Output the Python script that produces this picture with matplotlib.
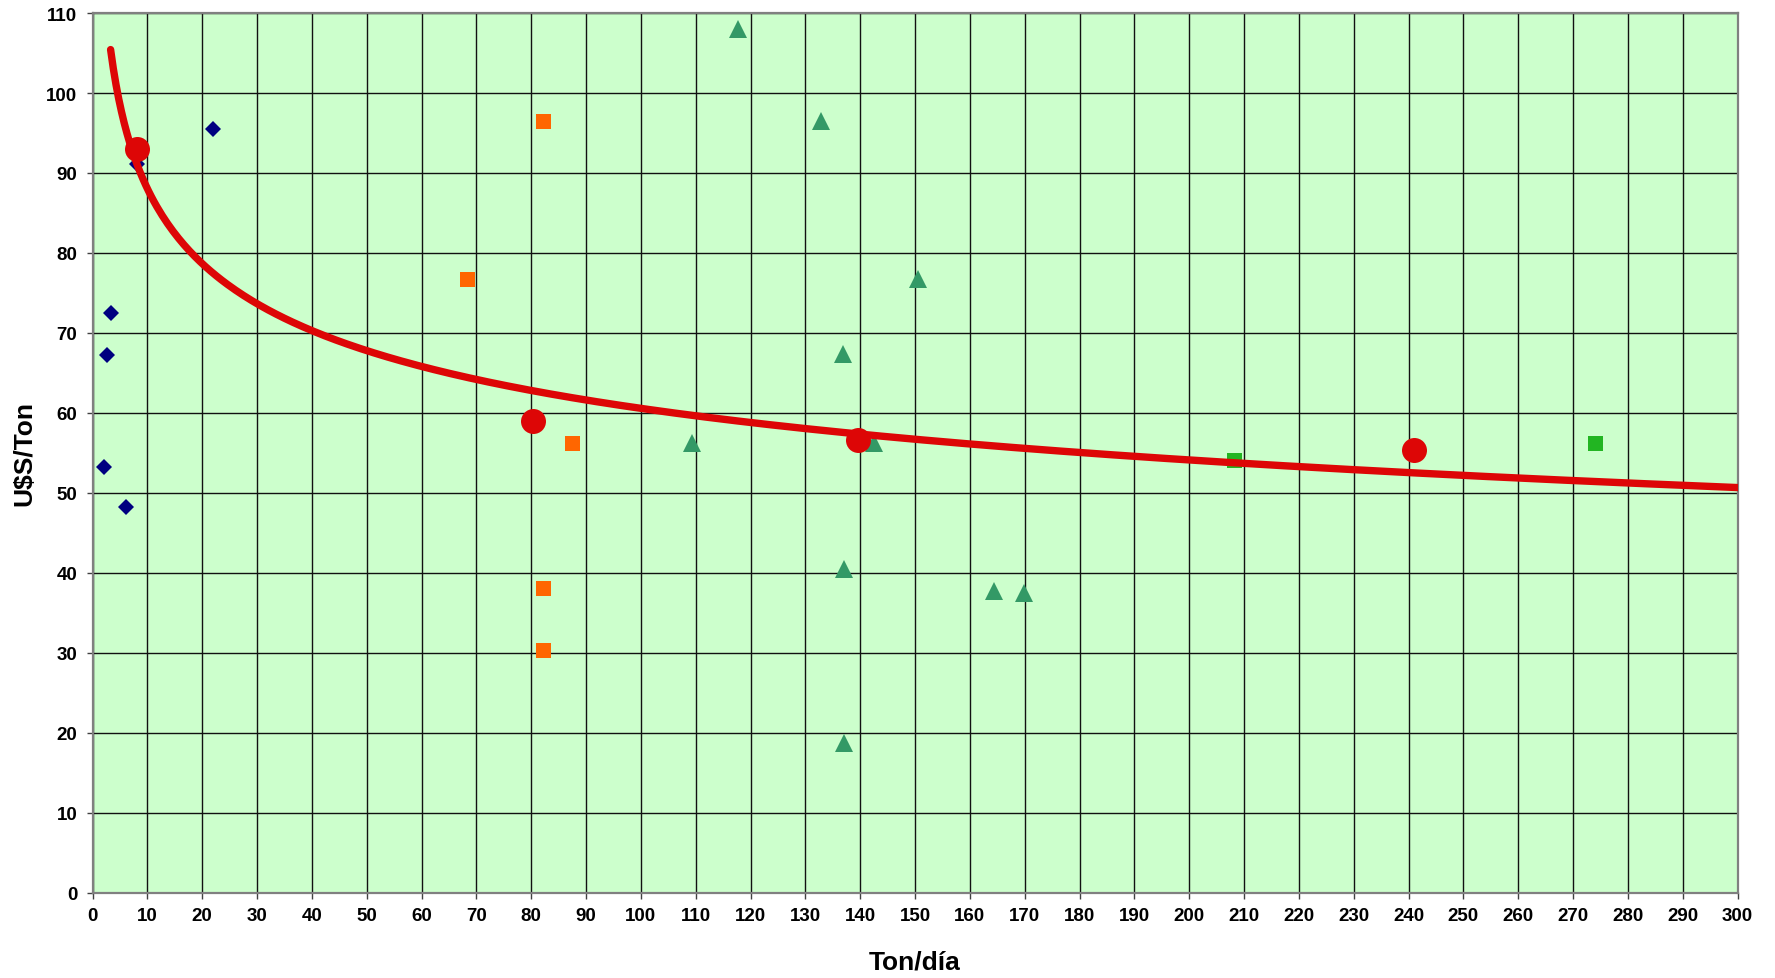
import matplotlib
matplotlib.use("Agg")
import matplotlib.pyplot as plt
import numpy as np

plt.rcParams['font.family'] = ['Liberation Sans', 'DejaVu Sans']

# navy diamonds
diamond_x = [2.15, 2.7, 3.3, 6.05, 8.06, 21.9]
diamond_y = [53.2, 67.2, 72.5, 48.2, 91.1, 95.5]

# orange squares
orange_x = [68.3, 82.2, 87.5, 82.2, 82.2]
orange_y = [76.7, 96.5, 56.3, 38.1, 30.4]

# green triangles
tri_x = [117.7, 132.8, 150.5, 136.9, 109.4, 142.5, 137.0, 164.4, 169.9, 137.0]
tri_y = [108.0, 96.5, 76.7, 67.4, 56.2, 56.2, 40.5, 37.7, 37.5, 18.7]

# green squares
gsq_x = [208.1, 274.0]
gsq_y = [54.1, 56.3]

# red circles (averages) - trend line is a power fit of these
avg_x = [8.2, 80.3, 139.6, 241.0]
avg_y = [93.0, 59.0, 56.6, 55.4]

x_ticks = list(range(0, 301, 10))
y_ticks = list(range(0, 111, 10))


def power_fit(x, y):
    b, ln_a = np.polyfit(np.log(x), np.log(y), 1)
    return np.exp(ln_a), b


fig = plt.figure(figsize=(17.75, 9.79), dpi=100)
ax = fig.add_axes([92.5 / 1775, 1 - 894 / 979, 1645 / 1775, 880 / 979])
ax.set_facecolor("#CCFFCC")

ax.set_xlim(0, 300)
ax.set_ylim(0, 110)
ax.set_xticks(x_ticks)
ax.set_yticks(y_ticks)
ax.grid(True, color="#111111", linewidth=1.0, zorder=1)
ax.set_axisbelow(True)

ax.plot(diamond_x, diamond_y, linestyle="none", marker="D", markersize=8,
        color="#000080", markeredgewidth=0, zorder=3)
ax.plot(orange_x, orange_y, linestyle="none", marker="s", markersize=10.8,
        color="#FF6600", markeredgewidth=0, zorder=3)
ax.plot(tri_x, tri_y, linestyle="none", marker="^", markersize=12.5,
        color="#339966", markeredgewidth=0, zorder=3)
ax.plot(gsq_x, gsq_y, linestyle="none", marker="s", markersize=10.8,
        color="#22B522", markeredgewidth=0, zorder=3)

# power trend line
a, b = power_fit(avg_x, avg_y)
xs = np.linspace(3.3, 300, 600)
ax.plot(xs, a * xs ** b, color="#DD0606", linewidth=5.3, solid_capstyle="round", zorder=4)

ax.plot(avg_x, avg_y, linestyle="none", marker="o", markersize=18,
        color="#DD0606", markeredgewidth=0, zorder=5)

for side in ["left", "bottom", "top", "right"]:
    ax.spines[side].set_color("#808080")
    ax.spines[side].set_linewidth(1.6)

ax.tick_params(axis="both", direction="out", length=4, width=1.0, color="#404040",
               labelsize=13.5)
ax.tick_params(axis="x", pad=6)
ax.tick_params(axis="y", pad=7)
for lbl in ax.get_xticklabels() + ax.get_yticklabels():
    lbl.set_fontweight("bold")

ax.set_xlabel("Ton/día", fontsize=19, fontweight="bold")
ax.set_ylabel("U$S/Ton", fontsize=19, fontweight="bold")
ax.xaxis.label.set_va("center")
ax.yaxis.label.set_va("center")
ax.xaxis.set_label_coords(0.5, (894 - 963) / 880)
ax.yaxis.set_label_coords((24 - 92.5) / 1645, 0.5)

fig.savefig("out.png", dpi=100)
